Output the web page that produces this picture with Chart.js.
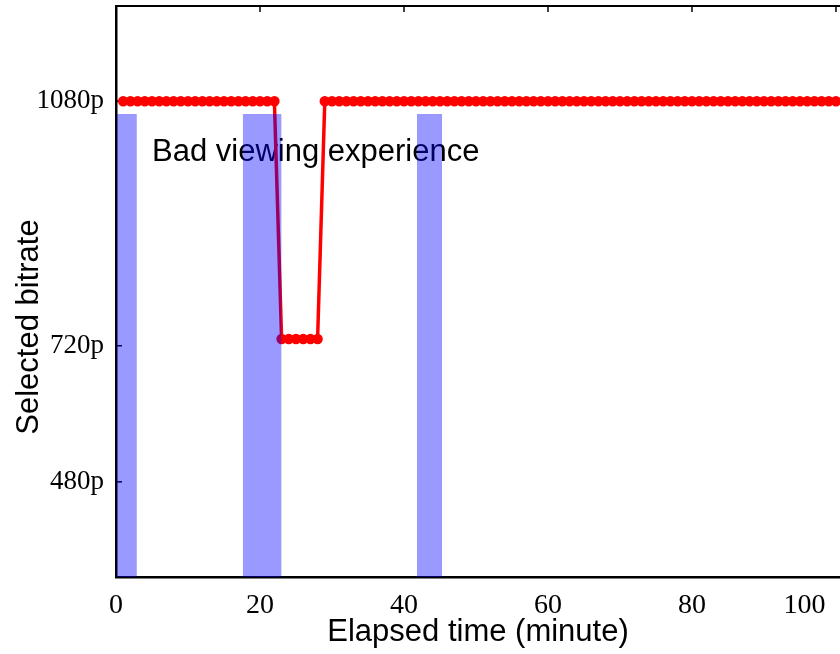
<!DOCTYPE html>
<html><head><meta charset="utf-8">
<script src="https://cdn.jsdelivr.net/npm/chart.js@4.4.0/dist/chart.umd.min.js"></script>
<style>html,body{margin:0;padding:0;background:#fff;overflow:hidden}canvas{display:block}</style>
</head><body>
<canvas id="c" width="840" height="654"></canvas>
<script>
// ---- data ----
const minutes = [
  1,2,3,4,5,6,7,8,9,10,
  11,12,13,14,15,16,17,18,19,20,
  21,22,23,24,25,26,27,28,29,30,
  31,32,33,34,35,36,37,38,39,40,
  41,42,43,44,45,46,47,48,49,50,
  51,52,53,54,55,56,57,58,59,60,
  61,62,63,64,65,66,67,68,69,70,
  71,72,73,74,75,76,77,78,79,80,
  81,82,83,84,85,86,87,88,89,90,
  91,92,93,94,95,96,97,98,99,100
];
const bitrate = [
  5000,5000,5000,5000,5000,5000,5000,5000,5000,5000,
  5000,5000,5000,5000,5000,5000,5000,5000,5000,5000,
  5000,5000,2500,2500,2500,2500,2500,2500,5000,5000,
  5000,5000,5000,5000,5000,5000,5000,5000,5000,5000,
  5000,5000,5000,5000,5000,5000,5000,5000,5000,5000,
  5000,5000,5000,5000,5000,5000,5000,5000,5000,5000,
  5000,5000,5000,5000,5000,5000,5000,5000,5000,5000,
  5000,5000,5000,5000,5000,5000,5000,5000,5000,5000,
  5000,5000,5000,5000,5000,5000,5000,5000,5000,5000,
  5000,5000,5000,5000,5000,5000,5000,5000,5000,5000
];
const badStart = [0.1, 17.6, 41.8];
const badEnd = [2.9, 23.0, 45.3];
const badLevel = 4865;
const xTickValues = [0, 20, 40, 60, 80, 100];
const xTickLabels = ['0', '20', '40', '60', '80', '100'];
const yTickValues = [1000, 2430, 5000];
const yTickLabels = ['480p', '720p', '1080p'];
const xTitle = 'Elapsed time (minute)';
const yTitle = 'Selected bitrate';
const annotationText = 'Bad viewing experience';
const annotationX = 5;
const annotationY = 4370;

// ---- styling ----
const SERIF = '"Liberation Serif", "Times New Roman", serif';
const SANS = '"Liberation Sans", Arial, sans-serif';

const framePlugin = {
  id: 'frame',
  beforeDatasetsDraw(chart) {
    const {ctx, chartArea: a, scales: {x, y}} = chart;
    ctx.save();
    ctx.strokeStyle = '#000';
    ctx.lineWidth = 2;
    ctx.beginPath(); ctx.moveTo(a.left, a.top); ctx.lineTo(a.right, a.top); ctx.stroke();
    ctx.lineWidth = 1.5;
    xTickValues.forEach(v => {
      if (v <= x.min) return;
      const px = x.getPixelForValue(v);
      ctx.beginPath(); ctx.moveTo(px, a.top); ctx.lineTo(px, a.top + 6); ctx.stroke();
    });
    yTickValues.forEach(v => {
      const py = y.getPixelForValue(v);
      ctx.beginPath(); ctx.moveTo(a.left, py); ctx.lineTo(a.left + 6, py); ctx.stroke();
    });
    ctx.fillStyle = '#000';
    ctx.font = '31px ' + SANS;
    ctx.textAlign = 'left';
    ctx.textBaseline = 'alphabetic';
    ctx.fillText(annotationText, x.getPixelForValue(annotationX), y.getPixelForValue(annotationY));
    ctx.translate(38, 327);
    ctx.rotate(-Math.PI / 2);
    ctx.textAlign = 'center';
    ctx.fillText(yTitle, 0, 0);
    ctx.restore();
  }
};

const lineDataset = {
  type: 'line',
  label: 'Selected bitrate',
  data: minutes.map((m, i) => ({x: m, y: bitrate[i]})),
  borderColor: '#ff0000',
  backgroundColor: '#ff0000',
  borderWidth: 3.5,
  pointRadius: 4.5,
  pointBorderWidth: 1.5,
  pointBackgroundColor: '#ff0000',
  pointBorderColor: '#ff0000',
  tension: 0,
  fill: false
};
const barDatasets = badStart.map((s, i) => ({
  type: 'line',
  label: 'Bad viewing experience ' + (i + 1),
  data: [{x: s, y: 0}, {x: s, y: badLevel}, {x: badEnd[i], y: badLevel}, {x: badEnd[i], y: 0}],
  borderWidth: 0,
  borderColor: 'rgba(0,0,0,0)',
  pointRadius: 0,
  tension: 0,
  fill: 'origin',
  backgroundColor: 'rgba(0,0,255,0.4)'
}));

new Chart(document.getElementById('c'), {
  type: 'line',
  data: {datasets: [...barDatasets, lineDataset]},
  options: {
    responsive: false,
    animation: false,
    devicePixelRatio: 1,
    layout: {autoPadding: false, padding: {top: 6, left: 0, right: 0, bottom: 0}},
    plugins: {legend: {display: false}, tooltip: {enabled: false}},
    scales: {
      x: {
        type: 'linear', position: 'bottom', min: 0, max: 100.56,
        afterBuildTicks: s => { s.ticks = xTickValues.map(v => ({value: v})); },
        afterFit: s => { s.height = 77; s.paddingLeft = 0; s.paddingRight = 0; s.paddingTop = 0; s.paddingBottom = 0; },
        grid: {drawOnChartArea: false, drawTicks: false},
        border: {display: true, color: '#000', width: 2.5},
        ticks: {
          maxRotation: 0, minRotation: 0, autoSkip: false, padding: 12, color: '#000',
          font: {family: SERIF, size: 28},
          callback: (v, i) => i === xTickLabels.length - 1 ? xTickLabels[i] + '         ' : xTickLabels[i]
        },
        title: {display: true, text: xTitle, color: '#000', font: {family: SANS, size: 31}, padding: {top: 0, bottom: 3}}
      },
      y: {
        type: 'linear', min: 0, max: 6000,
        afterBuildTicks: s => { s.ticks = yTickValues.map(v => ({value: v})); },
        afterFit: s => { s.width = 116; s.paddingTop = 0; s.paddingBottom = 0; s.paddingLeft = 0; s.paddingRight = 0; },
        grid: {drawOnChartArea: false, drawTicks: false},
        border: {display: true, color: '#000', width: 2.5},
        ticks: {padding: 12, color: '#000', font: {family: SERIF, size: 27}, callback: (v, i) => yTickLabels[i]}
      }
    }
  },
  plugins: [framePlugin]
});
</script>
</body></html>
